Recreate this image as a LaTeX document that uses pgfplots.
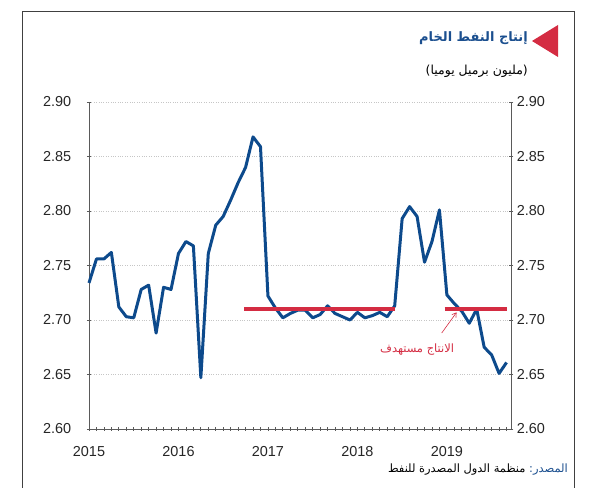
\documentclass[border=0pt]{standalone}
\usepackage{pgfplots}
\pgfplotsset{compat=1.18}
\usetikzlibrary{arrows.meta}
\usepackage{fontspec}
\setmainfont{Liberation Sans}
\newfontfamily\arabicfont[Script=Arabic]{DejaVu Sans}
\TeXXeTstate=1
\definecolor{oilblue}{HTML}{0D4A8C}
\definecolor{titleblue}{HTML}{1B4F8F}
\definecolor{tgtred}{HTML}{D42C42}
\definecolor{axgray}{HTML}{5A5A5A}
\pgfplotstableread{
m v
0 2.734
1 2.756
2 2.756
3 2.762
4 2.712
5 2.703
6 2.702
7 2.728
8 2.732
9 2.688
10 2.730
11 2.728
12 2.761
13 2.772
14 2.768
15 2.647
16 2.761
17 2.787
18 2.795
19 2.810
20 2.826
21 2.840
22 2.868
23 2.859
24 2.722
25 2.711
26 2.702
27 2.706
28 2.709
29 2.709
30 2.702
31 2.705
32 2.713
33 2.706
34 2.703
35 2.700
36 2.707
37 2.702
38 2.704
39 2.707
40 2.703
41 2.713
42 2.793
43 2.804
44 2.795
45 2.753
46 2.772
47 2.801
48 2.723
49 2.715
50 2.708
51 2.697
52 2.710
53 2.675
54 2.668
55 2.651
56 2.661
}\oildata
\begin{document}
\begin{tikzpicture}[x=1bp,y=1bp]
\useasboundingbox (0,0) rectangle (597,488);
\draw[line width=1bp, black!75] (22,-3) -- (22,476) -- (574,476) -- (574,-3);
\pgfplotsset{
  base/.style={
    at={(89bp,59bp)}, anchor=south west, scale only axis,
    width=422bp, height=327bp,
    xmin=0, xmax=56.6, ymin=2.60, ymax=2.90,
    ytick={2.60,2.65,2.70,2.75,2.80,2.85,2.90},
    axis line style={axgray, line width=0.9bp, -},
    tick style={axgray, line width=0.8bp},
    tick align=outside,
    major tick length=4.5bp, minor tick length=3.5bp,
    ticklabel style={font=\fontsize{14.5}{16}\selectfont, text=black!85},
    /pgf/number format/assume math mode=true,
    /pgf/number format/fixed,
    /pgf/number format/fixed zerofill,
    /pgf/number format/precision=2,
  }
}
\begin{axis}[base,
  axis x line=bottom, axis y line=left,
  axis line style={-},
  xtick={0,12,24,36,48}, xticklabels={2015,2016,2017,2018,2019},
  minor xtick={0,...,56},
  ymajorgrids, grid style={dotted, gray!45, line width=0.9bp},
  yticklabel style={xshift=-12bp},
  xticklabel style={yshift=-12bp},
  clip=false,
]
\addplot[oilblue, line width=3bp, line join=round] table[x=m,y=v] {\oildata};
\addplot[tgtred, line width=3.2bp] coordinates {(20.8,2.710) (41.0,2.710)};
\addplot[tgtred, line width=3.2bp] coordinates {(47.7,2.710) (56.0,2.710)};
\draw[tgtred, line width=0.6bp, -{Straight Barb[length=4bp,width=5bp]}] (axis cs:47.3,2.688) -- (axis cs:49.3,2.707);
\node[text=tgtred, font=\arabicfont\fontsize{11.5}{13}\selectfont] at (axis cs:44.0,2.673) {\beginR الانتاج مستهدف\endR};
\end{axis}
\begin{axis}[base,
  axis x line=none, axis y line=right,
  axis line style={-},
]
\end{axis}
\fill[tgtred] (532,447) -- (558,463) -- (558,431) -- cycle;
\node[anchor=east, text=titleblue, inner sep=0pt] at (528,450) {\arabicfont\bfseries\fontsize{13}{15}\selectfont\beginR إنتاج النفط الخام\endR};
\node[anchor=east, inner sep=0pt] at (528,417) {\arabicfont\fontsize{12.5}{14}\selectfont\beginR(مليون برميل يوميا)\endR};
\node[anchor=east, inner sep=0pt] at (568,18) {\arabicfont\fontsize{11.5}{13}\selectfont{\beginR منظمة الدول المصدرة للنفط\endR} {\color{titleblue}المصدر:}};
\end{tikzpicture}
\end{document}
